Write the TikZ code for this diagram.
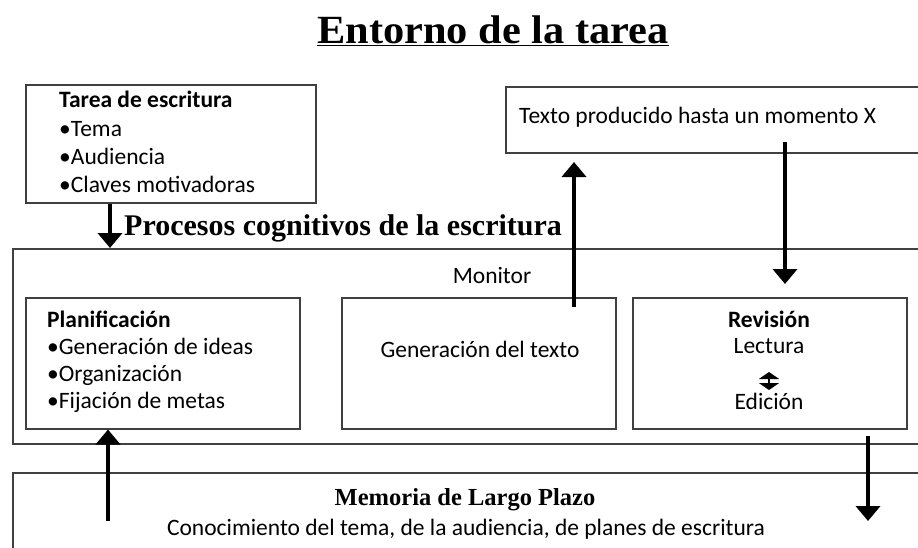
\documentclass[tikz,border=0pt]{standalone}
\usepackage{fontspec}
\setmainfont{Carlito}
\newfontfamily\serifb[FakeStretch=1.06]{Liberation Serif}
\newfontfamily\serifc{Liberation Serif}
\usetikzlibrary{arrows.meta}
\definecolor{boxgray}{HTML}{404040}
\begin{document}
\begin{tikzpicture}[x=1pt,y=-1pt,
  box/.style={draw=boxgray, line width=1.5pt, inner sep=0pt, anchor=north west},
  body/.style={font=\fontsize{23.5}{28}\selectfont, inner sep=0pt},
  heading/.style={font=\fontsize{30}{35}\selectfont\serifc\bfseries, inner sep=0pt},
  bigarrow/.style={line width=4pt, -{Triangle[width=24pt,length=15pt]}},
  smallarrow/.style={line width=2pt, {Triangle[width=20pt,length=7pt]}-{Triangle[width=20pt,length=7pt]}}]
\useasboundingbox (0,0) rectangle (918,547);
\clip (0,0) rectangle (918,547);

% title
\node[font=\fontsize{40}{45}\selectfont\serifb\bfseries, inner sep=0pt, anchor=base] (title) at (493,43) {\underline{Entorno de la tarea}};

% boxes
\node[box, minimum width=290pt, minimum height=118pt] (tarea) at (25,84) {};
\node[box, minimum width=440pt, minimum height=66pt] (texto) at (505,86) {};
\node[box, minimum width=935pt, minimum height=195pt] (proc) at (12,248) {};
\node[box, minimum width=274pt, minimum height=131pt] (plan) at (25,297) {};
\node[box, minimum width=274pt, minimum height=131pt] (gen) at (341,297) {};
\node[box, minimum width=274pt, minimum height=131pt] (rev) at (632,297) {};
\node[box, minimum width=935pt, minimum height=100pt] (mem) at (12,472) {};

% texts
\node[body, anchor=base west] (t1) at (59,107) {\textbf{Tarea de escritura}};
\node[body, anchor=base west] (t2) at (59,136) {•Tema};
\node[body, anchor=base west] (t3) at (59,164) {•Audiencia};
\node[body, anchor=base west] (t4) at (59,192) {•Claves motivadoras};

\node[body, anchor=base west] (tx) at (519,123) {Texto producido hasta un momento X};

\node[heading, anchor=base west] (proctitle) at (124,235) {Procesos cognitivos de la escritura};
\node[body, anchor=base] (monitor) at (492,283) {Monitor};

\node[body, anchor=base west] (p1) at (47,327) {\textbf{Planificación}};
\node[body, anchor=base west] (p2) at (47,354) {•Generación de ideas};
\node[body, anchor=base west] (p3) at (47,381) {•Organización};
\node[body, anchor=base west] (p4) at (47,408) {•Fijación de metas};

\node[body, anchor=base] (gtxt) at (480,357) {Generación del texto};

\node[body, anchor=base] (r1) at (769,327) {\textbf{Revisión}};
\node[body, anchor=base] (r2) at (769,353) {Lectura};
\node[body, anchor=base] (r3) at (769,409) {Edición};
\coordinate (da) at (769,372);
\coordinate (db) at (769,390);
\draw[smallarrow] (da) -- (db);

\node[font=\fontsize{24.5}{29}\selectfont\serifc\bfseries, inner sep=0pt, anchor=base] (m1) at (465,505) {Memoria de Largo Plazo};
\node[body, anchor=base] (m2) at (466,535) {Conocimiento del tema, de la audiencia, de planes de escritura};

% arrows
\draw[bigarrow] (tarea.south -| 110,0) -- (proc.north -| 110,0);
\coordinate (g0) at (574,307);
\coordinate (g1) at (574,162);
\draw[bigarrow] (g0) -- (g1);
\coordinate (x0) at (785,142);
\coordinate (x1) at (785,284);
\draw[bigarrow] (x0) -- (x1);
\coordinate (m0) at (108,521);
\draw[bigarrow] (m0) -- (plan.south -| 108,0);
\coordinate (r0) at (868,436);
\coordinate (r1e) at (868,521);
\draw[bigarrow] (r0) -- (r1e);
\end{tikzpicture}
\end{document}
